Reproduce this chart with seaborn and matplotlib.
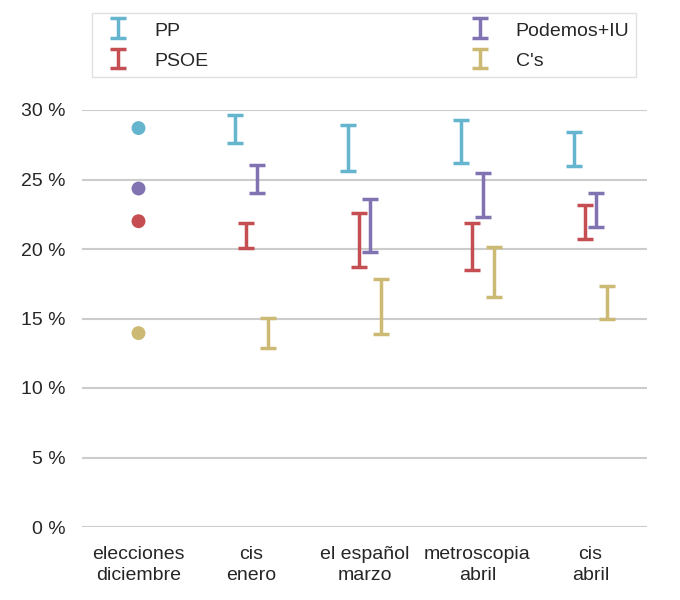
import numpy as np
import pandas as pd
import matplotlib
matplotlib.use("Agg")
import matplotlib.pyplot as plt
import seaborn as sns

categories = ["elecciones\ndiciembre", "cis\nenero", "el español\nmarzo",
              "metroscopia\nabril", "cis\nabril"]
parties = ["PP", "PSOE", "Podemos+IU", "C's"]
colors = ["#64b5cd", "#c44e52", "#8172b2", "#ccb974"]

# election results (December)
election = [28.7, 22.0, 24.35, 13.95]

# poll ranges (low, high) for the four polls
pp_lo = [27.6, 25.6, 26.2, 26.0]
pp_hi = [29.65, 28.9, 29.25, 28.4]
psoe_lo = [20.05, 18.7, 18.5, 20.7]
psoe_hi = [21.9, 22.6, 21.85, 23.15]
pod_lo = [24.0, 19.8, 22.3, 21.55]
pod_hi = [26.05, 23.6, 25.45, 24.0]
cs_lo = [12.9, 13.9, 16.55, 14.95]
cs_hi = [15.05, 17.85, 20.15, 17.35]
yticks = [0, 5, 10, 15, 20, 25, 30]

lows = [pp_lo, psoe_lo, pod_lo, cs_lo]
highs = [pp_hi, psoe_hi, pod_hi, cs_hi]
offsets = [-0.15, -0.05, 0.05, 0.15]

sns.set_theme(style="whitegrid")
plt.rcParams['font.family'] = ['Liberation Sans', 'DejaVu Sans']

fig = plt.figure(figsize=(6.8, 6.0), dpi=100)
ax = fig.add_axes([82/680, 73/600, (647-82)/680, (527-110)/600])

df_el = pd.DataFrame({"x": [0]*4, "y": election, "party": parties})
sns.scatterplot(data=df_el, x="x", y="y", hue="party", palette=colors,
                hue_order=parties, s=100, edgecolor="none", ax=ax, legend=False,
                zorder=3)

handles = []
for i, p in enumerate(parties):
    lo = np.array(lows[i]); hi = np.array(highs[i])
    mid = (lo + hi) / 2
    xs = np.arange(1, 5) + offsets[i]
    h = ax.errorbar(xs, mid, yerr=[mid - lo, hi - mid], fmt="none",
                    ecolor=colors[i], elinewidth=2.5, capsize=6, capthick=2.5,
                    label=p)
    handles.append(h)

ax.set_xlim(-0.5, 4.5)
ax.set_ylim(0, 30)
ax.set_yticks(yticks)
ax.set_yticklabels([f"{v} %" for v in yticks])
ax.set_xticks(range(5))
ax.set_xticklabels(categories, linespacing=1.3)
ax.tick_params(axis="both", labelsize=14, colors="#262626")
ax.tick_params(axis="y", pad=6)
ax.tick_params(axis="x", pad=8)
ax.grid(axis="x", visible=False)
ax.grid(axis="y", color="#cccccc", linewidth=1.5)
for s in ax.spines.values():
    s.set_visible(False)
ax.set_xlabel("")
ax.set_ylabel("")

leg = fig.legend(handles, parties, ncol=2,
                 loc="upper left", bbox_to_anchor=(92/680, 1 - 13/600, 544/680, 0),
                 mode="expand", fontsize=14, frameon=True, fancybox=False,
                 borderaxespad=0, handlelength=2.0, handletextpad=0.85,
                 labelspacing=0.55, handleheight=1.1, borderpad=0.35)
leg.get_frame().set_edgecolor("#d9d9d9")
leg.get_frame().set_linewidth(1.0)
for t in leg.get_texts():
    t.set_color("#262626")

fig.savefig("out.png", dpi=100)
